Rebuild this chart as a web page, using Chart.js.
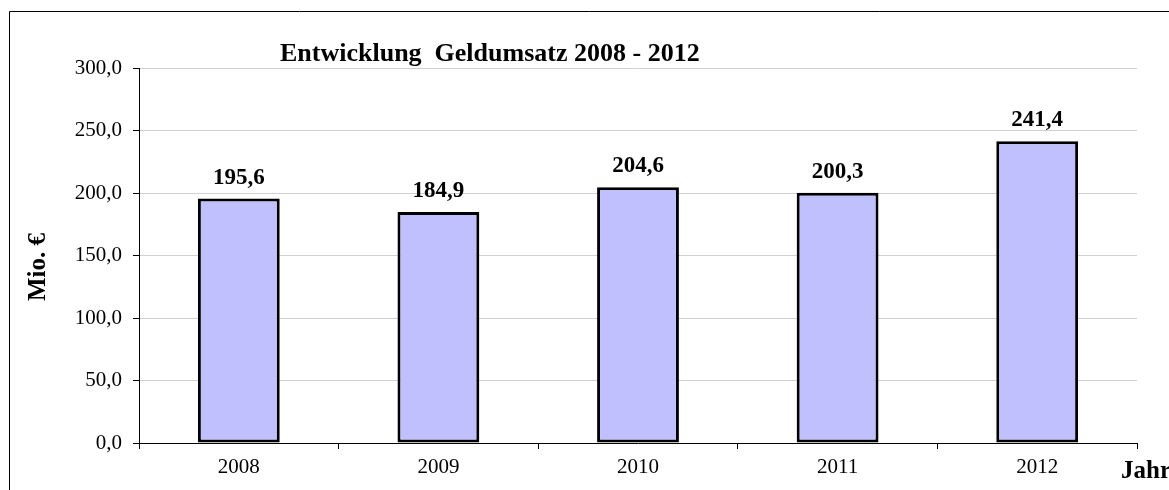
<!DOCTYPE html>
<html lang="de">
<head>
    <meta charset="UTF-8">
    <title>Entwicklung Geldumsatz 2008 - 2012</title>
    <script src="https://cdn.jsdelivr.net/npm/chart.js"></script>
    <style>
        body { margin: 0; background: #fff; }
    </style>
</head>
<body>
    <canvas id="chartCanvas" width="1169" height="490"></canvas>

    <script>
        const years = ['2008', '2009', '2010', '2011', '2012'];
        const umsatz = [195.6, 184.9, 204.6, 200.3, 241.4];
        const yTicks = [0, 50, 100, 150, 200, 250, 300];

        const chartTitle = 'Entwicklung  Geldumsatz 2008 - 2012';
        const yTitle = 'Mio. €';
        const xTitle = 'Jahr';

        const serif = "'Liberation Serif', 'Times New Roman', serif";
        const komma = v => v.toFixed(1).replace('.', ',');

        // frame, title, axis titles and value labels
        const extras = {
            id: 'extras',
            beforeDraw(chart) {
                const c = chart.ctx;
                c.save();
                c.fillStyle = '#fff';
                c.fillRect(0, 0, chart.width, chart.height);
                c.strokeStyle = '#000';
                c.lineWidth = 1;
                c.beginPath();
                c.moveTo(9.5, chart.height);
                c.lineTo(9.5, 11.5);
                c.lineTo(chart.width, 11.5);
                c.stroke();
                c.restore();
            },
            afterDatasetsDraw(chart) {
                const c = chart.ctx;
                c.save();
                c.fillStyle = '#000';
                c.font = 'bold 23px ' + serif;
                c.textAlign = 'center';
                c.textBaseline = 'alphabetic';
                chart.getDatasetMeta(0).data.forEach((bar, i) => {
                    c.fillText(komma(umsatz[i]), bar.x, bar.y - 15);
                });

                c.font = 'bold 26px ' + serif;
                c.textAlign = 'left';
                c.fillText(chartTitle, 280, 61);

                c.font = 'bold 25px ' + serif;
                c.fillText(xTitle, 1121, 478);

                c.translate(45, 267);
                c.rotate(-Math.PI / 2);
                c.textAlign = 'center';
                c.fillText(yTitle, 0, 0);
                c.restore();
            }
        };

        const ctx = document.getElementById('chartCanvas').getContext('2d');
        new Chart(ctx, {
            type: 'bar',
            data: {
                labels: years,
                datasets: [{
                    data: umsatz,
                    backgroundColor: '#c0c0ff',
                    borderColor: '#000',
                    borderWidth: 3,
                    borderSkipped: false,
                    categoryPercentage: 1,
                    barPercentage: 0.41
                }]
            },
            options: {
                responsive: false,
                animation: false,
                layout: { padding: { top: 68, right: 32, bottom: 0, left: 0 } },
                plugins: {
                    legend: { display: false },
                    tooltip: { enabled: false }
                },
                scales: {
                    x: {
                        grid: { drawOnChartArea: false, offset: true, tickColor: '#000', tickLength: 6 },
                        border: { color: '#000', width: 1 },
                        ticks: { color: '#000', font: { family: serif, size: 21 }, padding: 6 },
                        afterFit: s => { s.height = 47; }
                    },
                    y: {
                        min: yTicks[0],
                        max: yTicks[yTicks.length - 1],
                        afterBuildTicks: s => { s.ticks = yTicks.map(v => ({ value: v })); },
                        grid: { color: '#d0d0d0', tickColor: '#000', tickLength: 6 },
                        border: { color: '#000', width: 1 },
                        ticks: {
                            color: '#000',
                            font: { family: serif, size: 21 },
                            padding: 11,
                            callback: v => komma(v)
                        },
                        afterFit: s => { s.width = 139; }
                    }
                }
            },
            plugins: [extras]
        });
    </script>
</body>
</html>
